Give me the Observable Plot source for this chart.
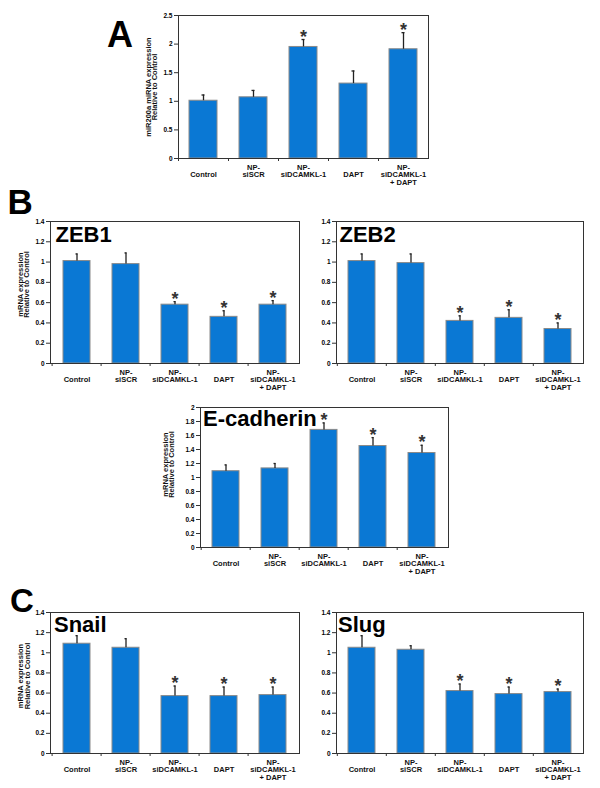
<!DOCTYPE html>
<html><head><meta charset="utf-8">
<script src="https://cdn.jsdelivr.net/npm/d3@7"></script>
<script src="https://cdn.jsdelivr.net/npm/@observablehq/plot@0.6"></script>
<style>
body{margin:0;background:#fff;}
#fig{position:relative;width:600px;height:788px;overflow:hidden;font-family:"Liberation Sans",Arial,sans-serif;}
.panel{position:absolute;}
.letter{position:absolute;font-weight:bold;line-height:1;color:#000;}
</style></head><body><div id="fig"></div>
<script>
// ---- data ----
const categories = ["Control", "NP-\nsiSCR", "NP-\nsiDCAMKL-1", "DAPT", "NP-\nsiDCAMKL-1\n+ DAPT"];

const mir200aValues = [1.01, 1.07, 1.95, 1.31, 1.91];
const mir200aErrors = [0.10, 0.12, 0.13, 0.22, 0.29];
const mir200aSig    = [false, false, true, false, true];

const zeb1Values = [1.01, 0.98, 0.58, 0.46, 0.58];
const zeb1Errors = [0.07, 0.11, 0.03, 0.06, 0.04];

const zeb2Values = [1.01, 0.99, 0.42, 0.45, 0.34];
const zeb2Errors = [0.07, 0.09, 0.05, 0.08, 0.06];

const ecadValues = [1.09, 1.13, 1.68, 1.45, 1.35];
const ecadErrors = [0.09, 0.07, 0.10, 0.12, 0.11];

const snailValues = [1.09, 1.05, 0.57, 0.57, 0.58];
const snailErrors = [0.08, 0.09, 0.10, 0.09, 0.08];

const slugValues = [1.05, 1.03, 0.62, 0.59, 0.61];
const slugErrors = [0.12, 0.04, 0.07, 0.07, 0.03];

const geneSig = [false, false, true, true, true];

const ticks25 = [0, 0.5, 1, 1.5, 2, 2.5];
const ticks14 = [0, 0.2, 0.4, 0.6, 0.8, 1, 1.2, 1.4];
const ticks20 = [0, 0.2, 0.4, 0.6, 0.8, 1, 1.2, 1.4, 1.6, 1.8, 2];

const ylabelMir = "miR200a miRNA expression\nRelative to Control";
const ylabelMrna = "mRNA expression\nRelative to Control";

// ---- styles / layout ----
const BAR_FILL = "#0a78d4";
const BAR_STROKE = "#8a8a8a";
const INK = "#222";
const ML = 60, MR = 6, MT = 6, MB = 36;

const fig = document.getElementById("fig");

function panel(values, errors, sig, lay) {
  const data = categories.map((c, i) => ({cat: c, value: values[i], err: errors[i], sig: sig[i]}));
  const w = lay.R - lay.L, h = lay.B - lay.T;
  const step = w / categories.length;
  const marks = [
    Plot.barY(data, {x: "cat", y: "value", fill: BAR_FILL, stroke: BAR_STROKE, strokeWidth: 1}),
    Plot.ruleX(data, {x: "cat", y1: "value", y2: d => d.value + d.err, stroke: INK, strokeWidth: 1.3}),
    Plot.tickY(data, {x: "cat", y: d => d.value + d.err, stroke: INK, strokeWidth: 1.3, insetLeft: 12.5, insetRight: 12.5}),
    Plot.text(data.filter(d => d.sig), {x: "cat", y: d => d.value + d.err, text: () => "*", fontSize: 18, fontWeight: "bold", fill: "#333", lineAnchor: "bottom", dy: 3}),
    Plot.frame({stroke: "#333", strokeWidth: 1}),
    Plot.axisY({ticks: lay.ticks, tickFormat: d => String(+d.toFixed(2)), tickSize: 4, tickPadding: 2, fontSize: 6.5, fontWeight: "bold", label: null, stroke: "#333"}),
    Plot.axisX({tickSize: 3, tickFormat: () => "", dx: -step / 2, label: null, stroke: "#333"}),
    Plot.text(categories.filter(c => c.includes("\n")), {x: d => d, frameAnchor: "bottom", lineAnchor: "top", dy: 6, fontSize: 7.5, fontWeight: "bold", lineHeight: 1, fill: "#111"}),
    Plot.text(categories.filter(c => !c.includes("\n")), {x: d => d, frameAnchor: "bottom", lineAnchor: "top", dy: 12.8, fontSize: 7.5, fontWeight: "bold", lineHeight: 1, fill: "#111"})
  ];
  if (lay.title) marks.push(Plot.text([lay.title], {frameAnchor: "top-left", textAnchor: "start", lineAnchor: "top", dx: lay.titleDx, dy: lay.titleDy, fontSize: 22, fontWeight: "bold", fill: "#000"}));
  if (lay.ylabel) marks.push(Plot.text([lay.ylabel], {frameAnchor: "left", rotate: -90, textAnchor: "middle", lineAnchor: "middle", dx: lay.ylabDx, dy: lay.ylabDy, fontSize: 7.5, fontWeight: "bold", lineHeight: 0.9, fill: "#111"}));
  const chart = Plot.plot({
    width: w + ML + MR,
    height: h + MT + MB,
    marginLeft: ML, marginRight: MR, marginTop: MT, marginBottom: MB,
    style: "background: transparent; overflow: visible; font-family: 'Liberation Sans', Arial, sans-serif;",
    x: {domain: categories, paddingInner: 0.44, paddingOuter: 0.22},
    y: {domain: [0, lay.ymax]},
    marks
  });
  chart.classList.add("panel");
  chart.style.left = (lay.L - ML) + "px";
  chart.style.top = (lay.T - MT) + "px";
  chart.style.position = "absolute";
  fig.appendChild(chart);
}

panel(mir200aValues, mir200aErrors, mir200aSig, {L: 178, R: 428, T: 15, B: 158, ymax: 2.5, ticks: ticks25, ylabel: ylabelMir, ylabDx: -26.7, ylabDy: 0});
panel(zeb1Values, zeb1Errors, geneSig, {L: 50, R: 299, T: 221, B: 363, ymax: 1.4, ticks: ticks14, title: "ZEB1", titleDx: 5, titleDy: 5, ylabel: ylabelMrna, ylabDx: -26.7, ylabDy: -8});
panel(zeb2Values, zeb2Errors, geneSig, {L: 336, R: 583, T: 221, B: 363, ymax: 1.4, ticks: ticks14, title: "ZEB2", titleDx: 3, titleDy: 5});
panel(ecadValues, ecadErrors, geneSig, {L: 200, R: 448, T: 407, B: 547, ymax: 2, ticks: ticks20, title: "E-cadherin", titleDx: 2.5, titleDy: 3, ylabel: ylabelMrna, ylabDx: -31.7, ylabDy: -13});
panel(snailValues, snailErrors, geneSig, {L: 50, R: 299, T: 612, B: 753, ymax: 1.4, ticks: ticks14, title: "Snail", titleDx: 3.5, titleDy: 4, ylabel: ylabelMrna, ylabDx: -26.3, ylabDy: -7});
panel(slugValues, slugErrors, geneSig, {L: 336, R: 583, T: 612, B: 753, ymax: 1.4, ticks: ticks14, title: "Slug", titleDx: 1.5, titleDy: 4});

function letter(t, left, top, size) {
  const d = document.createElement("div");
  d.className = "letter";
  d.textContent = t;
  d.style.left = left + "px";
  d.style.top = top + "px";
  d.style.fontSize = size + "px";
  fig.appendChild(d);
}
letter("A", 107, 17.3, 36);
letter("B", 7.5, 183.7, 35);
letter("C", 10, 584, 33);
</script></body></html>
